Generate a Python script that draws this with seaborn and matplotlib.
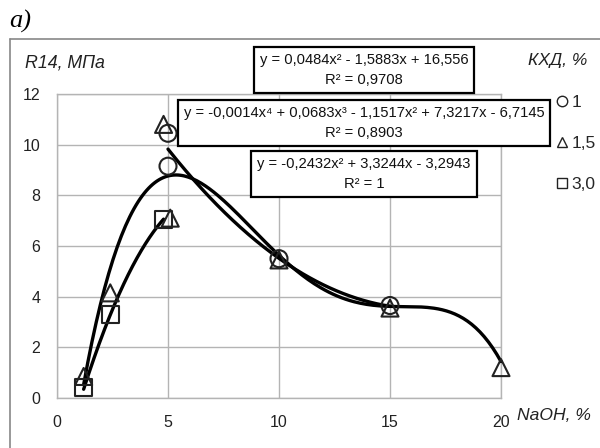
import numpy as np
import pandas as pd
import matplotlib
matplotlib.use("Agg")
import matplotlib.pyplot as plt
from matplotlib.lines import Line2D
import seaborn as sns

# ---- data ----
series_names = ["1", "1,5", "3,0"]
x_kxd1 = [5, 5, 10, 15]
y_kxd1 = [10.45, 9.15, 5.5, 3.65]
x_kxd15 = [1.2, 2.4, 4.8, 5.1, 10, 15, 20]
y_kxd15 = [0.85, 4.15, 10.8, 7.1, 5.45, 3.55, 1.2]
x_kxd3 = [1.2, 2.4, 4.8]
y_kxd3 = [0.4, 3.3, 7.05]

# trendline coefficients (highest power first) as printed on the chart
coef_kxd1 = [0.0484, -1.5883, 16.556]
coef_kxd15 = [-0.0014, 0.0683, -1.1517, 7.3217, -6.7145]
coef_kxd3 = [-0.2432, 3.3244, -3.2943]
range_kxd1 = [5, 15]
range_kxd15 = [1.2, 20]
range_kxd3 = [1.2, 4.8]

eq_texts = [
    "y = 0,0484x\u00b2 - 1,5883x + 16,556\nR\u00b2 = 0,9708",
    "y = -0,0014x\u2074 + 0,0683x\u00b3 - 1,1517x\u00b2 + 7,3217x - 6,7145\nR\u00b2 = 0,8903",
    "y = -0,2432x\u00b2 + 3,3244x - 3,2943\nR\u00b2 = 1",
]
x_ticks = [0, 5, 10, 15, 20]
y_ticks = [0, 2, 4, 6, 8, 10, 12]

# ---- build tables ----
pts = pd.DataFrame({
    "x": x_kxd1 + x_kxd15 + x_kxd3,
    "y": y_kxd1 + y_kxd15 + y_kxd3,
    "КХД": [series_names[0]] * len(x_kxd1) + [series_names[1]] * len(x_kxd15)
           + [series_names[2]] * len(x_kxd3),
})
curves = []
for name, coef, rng in zip(series_names, [coef_kxd1, coef_kxd15, coef_kxd3],
                           [range_kxd1, range_kxd15, range_kxd3]):
    xs = np.linspace(rng[0], rng[1], 200)
    curves.append(pd.DataFrame({"x": xs, "y": np.polyval(coef, xs), "КХД": name}))
curves = pd.concat(curves, ignore_index=True)

sns.set_theme(style="whitegrid")
plt.rcParams["font.family"] = ["Liberation Sans", "DejaVu Sans"]

W, H = 600, 448
fig = plt.figure(figsize=(6, 4.48), dpi=100)
ax = fig.add_axes([57 / W, 1 - 398 / H, (501 - 57) / W, (398 - 94) / H])

grid_c = "#b4b4b4"
for nm in series_names:
    sub = curves[curves["КХД"] == nm]
    sns.lineplot(data=sub, x="x", y="y", ax=ax, color="black", lw=2.4,
                 sort=False, legend=False, zorder=3, clip_on=False)

markers = {"1": "o", "1,5": "^", "3,0": "s"}
sns.scatterplot(data=pts, x="x", y="y", style="КХД", markers=markers, ax=ax,
                s=150, facecolor="none", edgecolor="#222222", linewidth=1.5,
                legend=False, zorder=4)
for coll in ax.collections:
    coll.set_clip_on(False)

ax.set_xlim(0, 20)
ax.set_ylim(0, 12)
ax.set_xticks(x_ticks)
ax.set_yticks(y_ticks)
ax.set_xticklabels([str(t) for t in x_ticks])
ax.set_yticklabels([str(t) for t in y_ticks])
ax.set_xlabel("")
ax.set_ylabel("")
ax.grid(True, color=grid_c, lw=1)
for sp in ax.spines.values():
    sp.set_visible(True)
    sp.set_color(grid_c)
    sp.set_linewidth(1)
ax.tick_params(axis="both", length=0, labelsize=11.5, colors="#222222")
ax.tick_params(axis="x", pad=12)
ax.tick_params(axis="y", pad=12)
ax.set_facecolor("white")

# equation boxes
box_specs = [(364 / W, 1 - 70 / H, 5), (364 / W, 1 - 123 / H, 6), (364 / W, 1 - 174 / H, 7)]
for txt, (bx, by, z) in zip(eq_texts, box_specs):
    fig.text(bx, by, txt, ha="center", va="center", fontsize=10.6,
             linespacing=1.5, color="#111111", zorder=z,
             bbox=dict(boxstyle="square,pad=0.4", fc="white", ec="black", lw=1.6))

# axis titles
fig.text(25 / W, 1 - 63 / H, "R14, МПа", fontsize=12.8, style="italic",
         ha="left", va="center", color="#222222")
fig.text(587 / W, 1 - 60 / H, "КХД, %", fontsize=12.5, style="italic",
         ha="right", va="center", color="#222222")
fig.text(517 / W, 1 - 415 / H, "NaOH, %", fontsize=12.6, style="italic",
         ha="left", va="center", color="#222222")
fig.text(9 / W, 1 - 21 / H, "a)", fontsize=19, style="italic",
         family=["Liberation Serif"], ha="left", va="center", color="black")

# legend
handles = [Line2D([], [], ls="none", marker=markers[n], mfc="none", mec="#222222",
                  mew=1.0, ms=7.5) for n in series_names]
fig.legend(handles, series_names, loc="upper left",
           bbox_to_anchor=(557 / W, 1 - 95 / H), frameon=False, fontsize=12.5,
           handlelength=0.6, handletextpad=0.25, labelspacing=1.48,
           borderpad=0, borderaxespad=0)

# outer chart frame
fig.add_artist(Line2D([10 / W, 1.0], [1 - 39 / H, 1 - 39 / H], color="#888888", lw=1.2))
fig.add_artist(Line2D([10 / W, 10 / W], [1 - 39 / H, 0.0], color="#888888", lw=1.2))

fig.savefig("out.png", dpi=100, facecolor="white")
